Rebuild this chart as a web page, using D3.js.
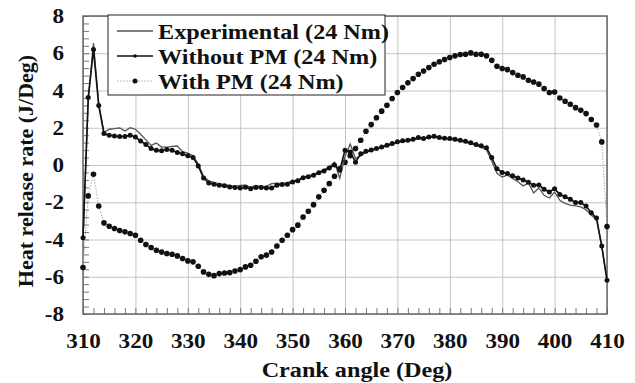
<!DOCTYPE html>
<html>
<head>
<meta charset="utf-8">
<script src="https://cdn.jsdelivr.net/npm/d3@7"></script>
<style>
  body { margin: 0; background: #fff; }
  text { font-family: "Liberation Serif", "Times New Roman", serif; font-weight: bold; fill: #111; }
</style>
</head>
<body>
<div id="chart"></div>
<script>
// crank angle, one point per degree
const angles = d3.range(310, 411);

const experimental = [
  -4.0, 3.5, 6.55, 3.3, 1.75, 1.92, 1.95, 1.99, 1.82, 2.0,
  1.92, 1.65, 1.35, 1.05, 1.18, 0.96, 0.96, 1.0, 1.02, 0.72,
  0.64, 0.5, 0.05, -0.6, -0.85, -0.95, -1.0, -1.05, -1.1, -1.15,
  -1.1, -1.08, -1.2, -1.1, -1.15, -1.15, -1.0, -0.98, -1.0, -0.95,
  -0.85, -0.8, -0.65, -0.58, -0.5, -0.38, -0.25, -0.1, 0.15, -0.7,
  0.45, 1.12, 0.35, 0.5, 0.68, 0.78, 0.86, 0.94, 1.02, 1.1,
  1.2, 1.26, 1.3, 1.35, 1.42, 1.4, 1.48, 1.5, 1.45, 1.4,
  1.38, 1.33, 1.28, 1.22, 1.15, 1.05, 0.95, 0.82, 0.2, -0.45,
  -0.64, -0.55, -0.72, -0.9, -1.12, -0.96, -1.5, -1.23, -1.63, -1.77,
  -1.45, -1.9, -2.06, -2.15, -2.2, -2.25, -2.4, -2.7, -2.93, -4.4,
  -6.2
];

const withoutPM = [
  -3.9, 3.62, 6.2, 3.2, 1.69, 1.6, 1.56, 1.53, 1.53, 1.6,
  1.5, 1.29, 1.1, 0.88, 0.79, 0.77, 0.83, 0.79, 0.67, 0.6,
  0.5, 0.4, -0.05, -0.7, -0.96, -1.03, -1.09, -1.12, -1.18, -1.21,
  -1.23, -1.2, -1.27, -1.21, -1.21, -1.23, -1.23, -1.09, -1.05, -1.03,
  -0.91, -0.85, -0.68, -0.63, -0.55, -0.42, -0.32, -0.16, 0.0, -0.28,
  0.79, 0.7, 0.15, 0.6, 0.74, 0.8, 0.88, 0.97, 1.06, 1.15,
  1.25, 1.3, 1.33, 1.38, 1.47, 1.42, 1.51, 1.54, 1.47, 1.44,
  1.42, 1.38, 1.33, 1.28, 1.2, 1.1, 1.03, 0.92, 0.4, -0.2,
  -0.4, -0.46, -0.58, -0.7, -0.8, -0.93, -1.09, -1.07, -1.3, -1.45,
  -1.27, -1.59, -1.71, -1.84, -2.02, -2.02, -2.2, -2.57, -2.84, -4.35,
  -6.19
];

const withPM = [
  -5.5, -1.66, -0.5, -2.2, -3.11, -3.29, -3.41, -3.52, -3.59, -3.68,
  -3.77, -4.04, -4.27, -4.43, -4.58, -4.67, -4.76, -4.79, -4.88, -5.02,
  -5.15, -5.2, -5.44, -5.74, -5.87, -5.94, -5.83, -5.8, -5.78, -5.69,
  -5.62, -5.47, -5.38, -5.17, -4.93, -4.84, -4.67, -4.35, -4.04, -3.77,
  -3.47, -3.23, -2.79, -2.48, -2.13, -1.71, -1.36, -1.0, -0.6, -0.2,
  0.15, 0.5, 0.88, 1.33, 1.81, 2.17, 2.54, 2.89, 3.21, 3.57,
  3.89, 4.16, 4.41, 4.64, 4.87, 5.05, 5.23, 5.41, 5.54, 5.66,
  5.77, 5.86, 5.93, 5.95, 6.02, 5.95, 5.95, 5.86, 5.62, 5.3,
  5.18, 5.12, 4.96, 4.82, 4.73, 4.55, 4.46, 4.34, 4.1, 3.89,
  3.92, 3.6, 3.42, 3.26, 3.08, 2.94, 2.76, 2.44, 2.15, 1.24,
  -3.3
];

const xTicks = [310, 320, 330, 340, 350, 360, 370, 380, 390, 400, 410];
const yTicks = [-8, -6, -4, -2, 0, 2, 4, 6, 8];
const xMinor = d3.range(310, 411, 2);
const yMinor = d3.range(-8, 8.01, 0.4);
const legendLabels = ["Experimental (24 Nm)", "Without PM (24 Nm)", "With PM (24 Nm)"];

const width = 635, height = 383;
const margin = {top: 16, right: 28, bottom: 69, left: 83};
const stretch = 1.1; // the source text is a bit wider than Liberation Serif

const x = d3.scaleLinear().domain([310, 410]).range([margin.left, width - margin.right]);
const y = d3.scaleLinear().domain([-8, 8]).range([height - margin.bottom, margin.top]);

const svg = d3.select("#chart").append("svg")
    .attr("width", width)
    .attr("height", height);

// grid
svg.append("g")
    .attr("transform", `translate(0,${height - margin.bottom})`)
    .call(d3.axisBottom(x).tickValues(xTicks).tickSize(-(height - margin.top - margin.bottom)).tickFormat(""))
    .call(g => g.select(".domain").remove())
    .call(g => g.selectAll("line").attr("stroke", "#c4c4c4"));

svg.append("g")
    .attr("transform", `translate(${margin.left},0)`)
    .call(d3.axisLeft(y).tickValues(yTicks).tickSize(-(width - margin.left - margin.right)).tickFormat(""))
    .call(g => g.select(".domain").remove())
    .call(g => g.selectAll("line").attr("stroke", "#c4c4c4"));

// minor ticks, pointing inward
svg.append("g")
    .attr("transform", `translate(0,${height - margin.bottom})`)
    .call(d3.axisBottom(x).tickValues(xMinor).tickSize(-6).tickFormat(""))
    .call(g => g.select(".domain").remove())
    .call(g => g.selectAll("line").attr("stroke", "#777"));

svg.append("g")
    .attr("transform", `translate(${margin.left},0)`)
    .call(d3.axisLeft(y).tickValues(yMinor).tickSize(-6).tickFormat(""))
    .call(g => g.select(".domain").remove())
    .call(g => g.selectAll("line").attr("stroke", "#777"));

// frame
svg.append("rect")
    .attr("x", margin.left)
    .attr("y", margin.top)
    .attr("width", width - margin.left - margin.right)
    .attr("height", height - margin.top - margin.bottom)
    .attr("fill", "none")
    .attr("stroke", "#666")
    .attr("stroke-width", 1.5);

// tick labels
svg.append("g")
    .attr("transform", `translate(0,${height - margin.bottom})`)
    .call(d3.axisBottom(x).tickValues(xTicks).tickSize(0).tickPadding(19).tickFormat(d => String(d)))
    .call(g => g.select(".domain").remove())
    .call(g => g.selectAll("text")
        .attr("font-size", 21).attr("font-family", null)
        .attr("transform", `scale(${stretch},1)`));

svg.append("g")
    .attr("transform", `translate(${margin.left},0)`)
    .call(d3.axisLeft(y).tickValues(yTicks).tickSize(0).tickPadding(19).tickFormat(d => String(d)))
    .call(g => g.select(".domain").remove())
    .call(g => g.selectAll("text")
        .attr("font-size", 21).attr("font-family", null)
        .attr("x", 0)
        .attr("transform", `translate(-19,0) scale(${stretch},1)`));

// axis titles
svg.append("text")
    .attr("transform", `translate(357,377) scale(${stretch},1)`)
    .attr("text-anchor", "middle")
    .attr("font-size", 22)
    .text("Crank angle (Deg)");

svg.append("text")
    .attr("transform", "translate(33,171) rotate(-90)")
    .attr("text-anchor", "middle")
    .attr("font-size", 22)
    .text("Heat release rate (J/Deg)");

// series
const line = d3.line()
    .x((d, i) => x(angles[i]))
    .y(d => y(d));

svg.append("path")
    .datum(withPM)
    .attr("d", line)
    .attr("fill", "none")
    .attr("stroke", "#aaa")
    .attr("stroke-width", 1)
    .attr("stroke-dasharray", "1.5,1.5");

svg.append("g").selectAll("circle")
    .data(withPM)
    .join("circle")
    .attr("cx", (d, i) => x(angles[i]))
    .attr("cy", d => y(d))
    .attr("r", 2.8)
    .attr("fill", "#111");

svg.append("path")
    .datum(experimental)
    .attr("d", line)
    .attr("fill", "none")
    .attr("stroke", "#555")
    .attr("stroke-width", 1.3);

svg.append("path")
    .datum(withoutPM)
    .attr("d", line)
    .attr("fill", "none")
    .attr("stroke", "#111")
    .attr("stroke-width", 1.6);

svg.append("g").selectAll("circle")
    .data(withoutPM)
    .join("circle")
    .attr("cx", (d, i) => x(angles[i]))
    .attr("cy", d => y(d))
    .attr("r", 2.5)
    .attr("fill", "#111");

// legend
const legend = svg.append("g");
legend.append("rect")
    .attr("x", 108).attr("y", 15)
    .attr("width", 277).attr("height", 80)
    .attr("fill", "#fff")
    .attr("stroke", "#222")
    .attr("stroke-width", 1);

const rowY = [31, 56, 81];
legend.append("line")
    .attr("x1", 117).attr("x2", 153).attr("y1", rowY[0]).attr("y2", rowY[0])
    .attr("stroke", "#555").attr("stroke-width", 1.3);
legend.append("line")
    .attr("x1", 117).attr("x2", 153).attr("y1", rowY[1]).attr("y2", rowY[1])
    .attr("stroke", "#111").attr("stroke-width", 1.6);
legend.append("circle").attr("cx", 135).attr("cy", rowY[1]).attr("r", 1.8).attr("fill", "#111");
legend.append("line")
    .attr("x1", 117).attr("x2", 153).attr("y1", rowY[2]).attr("y2", rowY[2])
    .attr("stroke", "#aaa").attr("stroke-width", 1).attr("stroke-dasharray", "1.5,1.5");
legend.append("circle").attr("cx", 135).attr("cy", rowY[2]).attr("r", 2.5).attr("fill", "#111");

legend.selectAll("text.lab")
    .data(legendLabels)
    .join("text")
    .attr("class", "lab")
    .attr("transform", (d, i) => `translate(158,${rowY[i] + 7.5}) scale(${stretch},1)`)
    .attr("font-size", 22)
    .text(d => d);
</script>
</body>
</html>
